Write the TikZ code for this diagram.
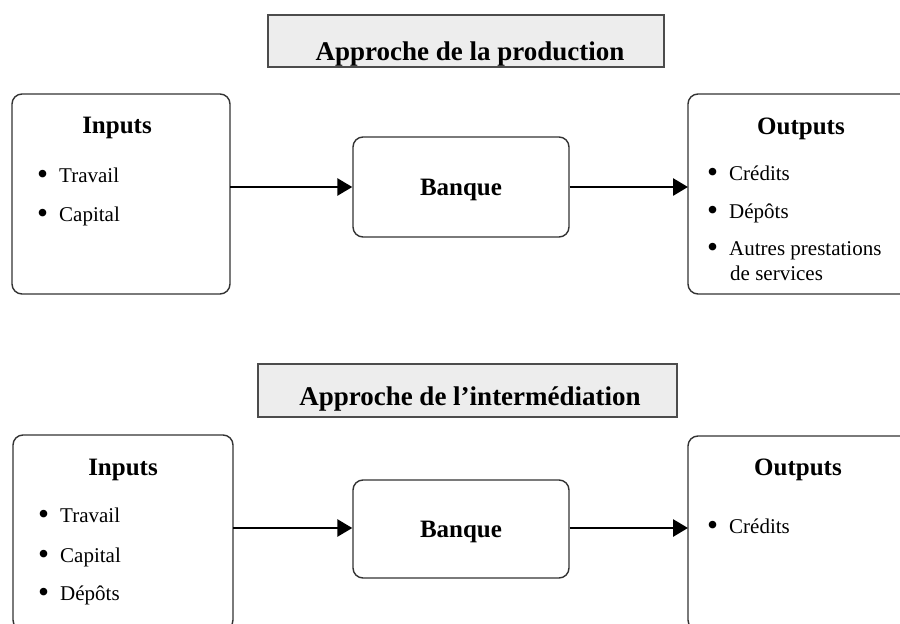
\documentclass[tikz,border=0pt]{standalone}
\usepackage{fontspec}
\setmainfont{Liberation Serif}
\usetikzlibrary{arrows.meta}
\newcommand\bulmark{\raisebox{-2.6pt}{\scalebox{1.5}{\textbullet}}\hspace{11pt}}
\begin{document}
\begin{tikzpicture}[x=1pt,y=-1pt,
  box/.style={draw=black!80, line width=1.4pt, rounded corners=10pt},
  titlebox/.style={draw=black!70, line width=1.3pt, fill=black!7},
  head/.style={font=\fontsize{25}{30}\selectfont\bfseries, inner sep=0pt, anchor=base},
  ttl/.style={font=\fontsize{27}{32}\selectfont\bfseries, inner sep=0pt, anchor=base},
  item/.style={font=\fontsize{21}{26}\selectfont, inner sep=0pt, anchor=base west, align=left},
  arr/.style={line width=2.8pt, -{Triangle[length=15pt,width=17pt]}}
]
\clip (0,0) rectangle (900,624);
\fill[white] (0,0) rectangle (900,624);
% ---------- top section
\draw[titlebox] (268,15) rectangle (664,67);
\node[ttl] (t1) at (470,60) {Approche de la production};

\draw[box] (12,94) rectangle (230,294);
\coordinate (in1) at (230,187);
\node[head] (h1) at (117,133) {Inputs};
\node[item] (i1a) at (37,182) {\bulmark Travail};
\node[item] (i1b) at (37,221) {\bulmark Capital};

\node[box, minimum width=216pt, minimum height=100pt] (b1) at (461,187) {};
\node[head] (bt1) at (461,195) {Banque};

\draw[box] (688,94) rectangle (912,294);
\coordinate (out1) at (688,187);
\node[head] (h2) at (801,134) {Outputs};
\node[item] (o1a) at (707,180) {\bulmark Crédits};
\node[item] (o1b) at (707,218) {\bulmark Dépôts};
\node[item] (o1c) at (707,255) {\bulmark Autres prestations};
\node[item] (o1d) at (730,280) {de services};

\draw[arr] (in1) -- (b1.west);
\draw[arr] (b1.east) -- (out1);

% ---------- bottom section
\draw[titlebox] (258,364) rectangle (677,417);
\node[ttl] (t2) at (470,405) {Approche de l’intermédiation};

\draw[box] (13,435) rectangle (233,630);
\coordinate (in2) at (233,528);
\node[head] (h3) at (123,475) {Inputs};
\node[item] (i2a) at (38,522) {\bulmark Travail};
\node[item] (i2b) at (38,562) {\bulmark Capital};
\node[item] (i2c) at (38,600) {\bulmark Dépôts};

\node[box, minimum width=216pt, minimum height=98pt] (b2) at (461,529) {};
\node[head] (bt2) at (461,537) {Banque};

\draw[box] (688,436) rectangle (912,630);
\coordinate (out2) at (688,528);
\node[head] (h4) at (798,475) {Outputs};
\node[item] (o2a) at (707,533) {\bulmark Crédits};

\draw[arr] (in2) -- (b2.west |- in2);
\draw[arr] (b2.east |- out2) -- (out2);
\end{tikzpicture}
\end{document}
